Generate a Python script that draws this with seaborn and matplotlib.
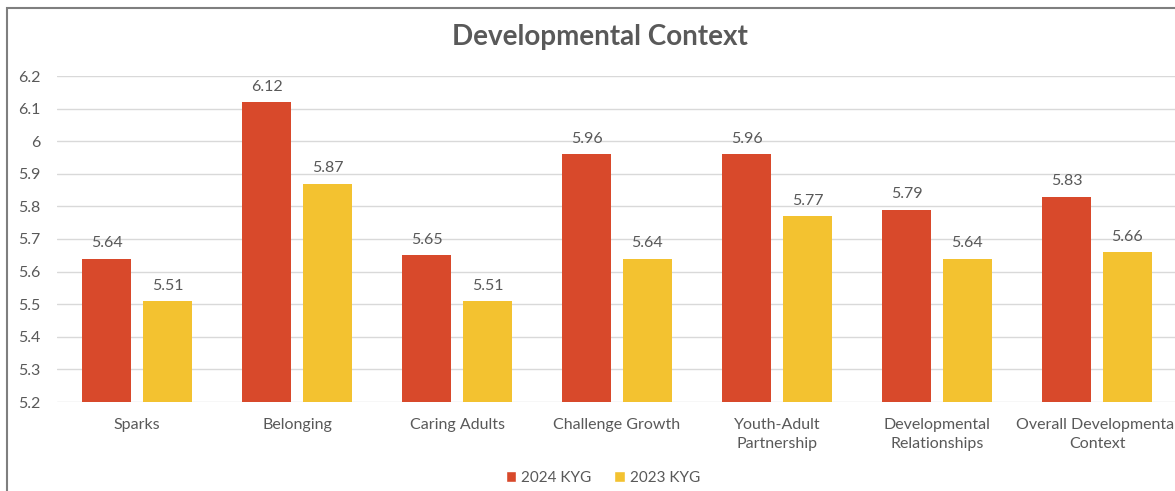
import numpy as np
import pandas as pd
import seaborn as sns
import matplotlib.pyplot as plt
from matplotlib.patches import Rectangle, Patch

categories = ["Sparks", "Belonging", "Caring Adults", "Challenge Growth",
              "Youth-Adult\nPartnership", "Developmental\nRelationships",
              "Overall Developmental\nContext"]
kyg_2024 = [5.64, 6.12, 5.65, 5.96, 5.96, 5.79, 5.83]
kyg_2023 = [5.51, 5.87, 5.51, 5.64, 5.77, 5.64, 5.66]
series = ["2024 KYG", "2023 KYG"]

df = pd.DataFrame({
    "category": categories * 2,
    "score": kyg_2024 + kyg_2023,
    "year": [series[0]] * len(categories) + [series[1]] * len(categories),
})

txt = "#595959"
red_solid = "#D8492B"
yel_solid = "#F3C230"

sns.set_style("white")
plt.rcParams["font.family"] = ["Lato", "DejaVu Sans"]

fig = plt.figure(figsize=(11.75, 4.91), dpi=100)
ax = fig.add_axes([57 / 1175, 1 - 402 / 491, 1120 / 1175, 326 / 491])

sns.barplot(data=df, x="category", y="score", hue="year", ax=ax,
            palette=[red_solid, yel_solid], saturation=1, width=0.76, gap=0.2,
            legend=False, zorder=2)

ticks = np.round(np.arange(5.2, 6.21, 0.1), 1)
ax.set_yticks(ticks)
ax.set_yticklabels([f"{v:g}" for v in ticks])
ax.grid(axis="y", color="#d9d9d9", lw=1, zorder=0)
ax.set_axisbelow(True)
sns.despine(ax=ax, left=True, bottom=True, right=True, top=True)

for cont in ax.containers:
    for p in cont.patches:
        p.set_edgecolor("none")
    ax.bar_label(cont, fmt="%.2f", padding=6, color=txt, fontsize=11.5)

ax.set_xlim(-0.5, len(categories) - 0.5)
ax.set_ylim(5.2, 6.2)
ax.set_xlabel("")
ax.set_ylabel("")
ax.tick_params(axis="x", length=0, pad=11.5, labelsize=11.5, labelcolor=txt)
ax.tick_params(axis="y", length=0, pad=12, labelsize=11.5, labelcolor=txt)
for lab in ax.get_xticklabels():
    lab.set_linespacing(1.45)

fig.text(0.511, 1 - 37 / 491, "Developmental Context", ha="center", va="center",
         fontsize=20, fontweight="bold", color=txt)

handles = [Patch(facecolor=red_solid, label=series[0]),
           Patch(facecolor=yel_solid, label=series[1])]
fig.legend(handles=handles, loc="center", bbox_to_anchor=(0.513, 1 - 478 / 491),
           ncol=2, frameon=False, handlelength=0.7, handleheight=0.7,
           handletextpad=0.3, columnspacing=1.5, fontsize=11, labelcolor=txt)

fig.add_artist(Rectangle((7 / 1175, -0.1), 1.2, 1 - 8 / 491 + 0.1,
                         transform=fig.transFigure, fill=False,
                         edgecolor="#7f7f7f", lw=1.5))

fig.savefig("out.png", dpi=100)
